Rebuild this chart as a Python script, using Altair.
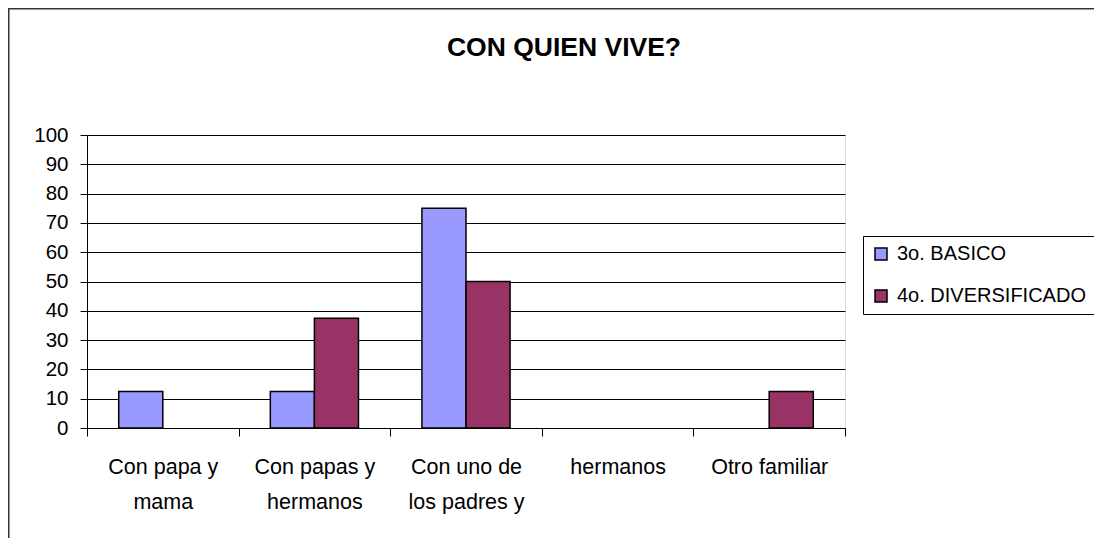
import altair as alt
import pandas as pd

categories = ["Con papa y|mama", "Con papas y|hermanos", "Con uno de|los padres y", "hermanos", "Otro familiar"]
series = ["3o. BASICO", "4o. DIVERSIFICADO"]
basico = [12.5, 12.5, 75, 0, 0]
diversificado = [0, 37.5, 50, 0, 12.5]
colors = ["#9999FF", "#993366"]
y_ticks = [0, 10, 20, 30, 40, 50, 60, 70, 80, 90, 100]

rows = []
for c, b, d in zip(categories, basico, diversificado):
    rows.append({"cat": c, "serie": series[0], "valor": b})
    rows.append({"cat": c, "serie": series[1], "valor": d})
df = pd.DataFrame(rows)

FONT = "Liberation Sans"
W, H = 758, 293

bars = alt.Chart(df).transform_filter("datum.valor > 0").mark_bar(stroke="black", strokeWidth=1.5).encode(
    x=alt.X("cat:N", sort=categories, title=None,
            scale=alt.Scale(domain=categories, paddingInner=0, paddingOuter=0),
            axis=alt.Axis(labelAngle=0, tickBand="extent", tickSize=8,
                          tickColor="black", domainColor="black",
                          labelExpr="split(datum.label, '|')",
                          labelFontSize=21.5, labelFont=FONT, labelColor="black",
                          labelPadding=20, labelLineHeight=35, labelBaseline="top",
                          grid=False)),
    xOffset=alt.XOffset("serie:N", sort=series,
                        scale=alt.Scale(domain=series, paddingOuter=0.72, paddingInner=0)),
    y=alt.Y("valor:Q", title=None,
            scale=alt.Scale(domain=[0, 100], nice=False),
            axis=alt.Axis(values=y_ticks, tickSize=7, tickColor="black",
                          domainColor="black", labelFontSize=20.5, labelFont=FONT,
                          labelColor="black", labelPadding=12,
                          grid=True, gridColor="black", gridWidth=1)),
    color=alt.Color("serie:N", sort=series,
                    scale=alt.Scale(domain=series, range=colors),
                    legend=alt.Legend(title=None, orient="none", legendX=776, legendY=101,
                                      symbolType="square", symbolSize=144,
                                      symbolStrokeColor="black", symbolStrokeWidth=1.5,
                                      labelFontSize=20, labelFont=FONT, labelColor="black",
                                      labelLimit=400,
                                      labelOffset=6, rowPadding=22, padding=8,
                                      strokeColor="black", fillColor="white")),
)

frame = alt.Chart(pd.DataFrame({"a": [0]})).mark_rect(
    fill=None, stroke="#333333", strokeWidth=1.5
).encode(
    x=alt.value(-78.25), x2=alt.value(W + 400),
    y=alt.value(-126.25), y2=alt.value(H + 400),
)

chart = alt.layer(bars, frame).properties(
    width=W, height=H,
    title=alt.TitleParams("CON QUIEN VIVE?", fontSize=26.5, fontWeight="bold",
                          font="Liberation Sans Narrow, Liberation Sans",
                          color="black", anchor="middle", frame="group", dx=98,
                          offset=-80, baseline="bottom"),
    autosize=alt.AutoSizeParams(type="none"),
    padding={"left": 79, "top": 127, "right": 249, "bottom": 110},
).configure_view(
    fill="#C0C0C0", stroke="#808080", strokeWidth=2
).configure(background="white")

chart.save("out.html", embed_options={"renderer": "svg", "actions": False})
